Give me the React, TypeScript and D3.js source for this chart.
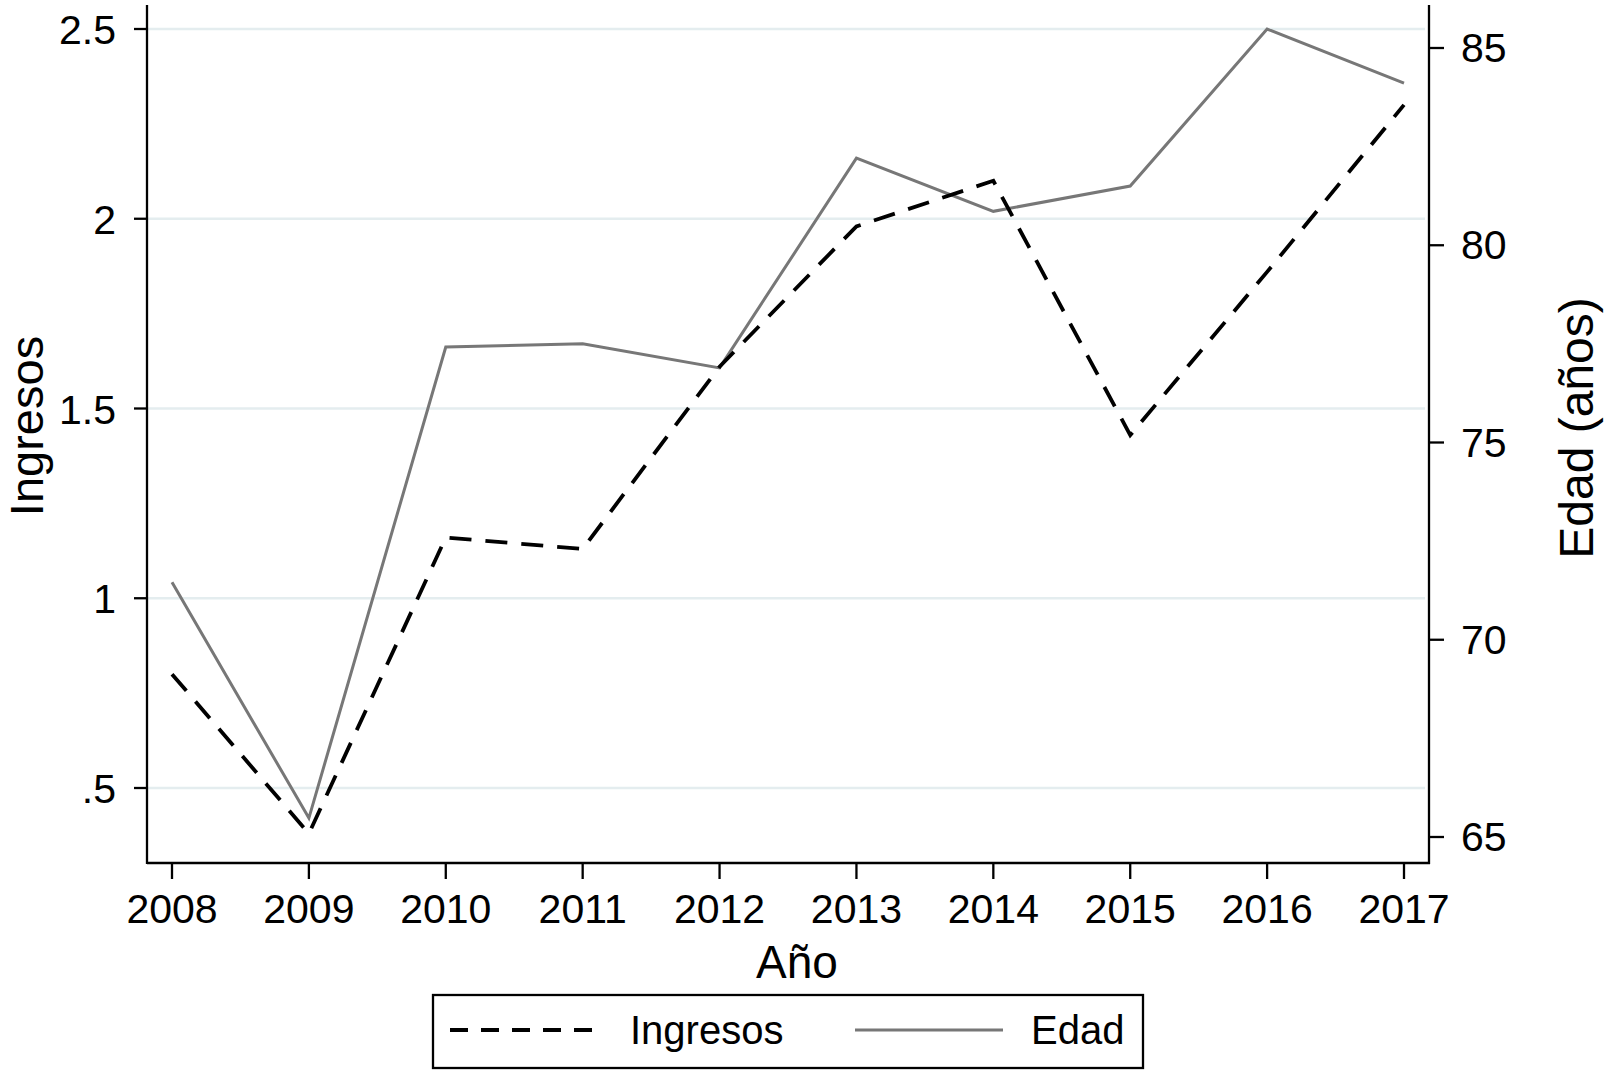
import React from "react";
import * as d3 from "d3";

const years: number[] = [2008, 2009, 2010, 2011, 2012, 2013, 2014, 2015, 2016, 2017];
const ingresos: number[] = [0.8, 0.38, 1.16, 1.13, 1.61, 1.98, 2.1, 1.43, 1.86, 2.3];
const edad: number[] = [71.46, 65.48, 77.42, 77.5, 76.89, 82.21, 80.86, 81.5, 85.48, 84.11];
const leftTicks: number[] = [0.5, 1, 1.5, 2, 2.5];
const leftTickLabels: string[] = [".5", "1", "1.5", "2", "2.5"];
const rightTicks: number[] = [65, 70, 75, 80, 85];
const rightTickLabels: string[] = ["65", "70", "75", "80", "85"];
const seriesNames: string[] = ["Ingresos", "Edad"];
const xTitle = "Año";
const yLeftTitle = "Ingresos";
const yRightTitle = "Edad (años)";

const W = 1605;
const H = 1072;
const FONT = "'Liberation Sans', Arial, Helvetica, sans-serif";

export default function App() {
  const axL = 147;
  const axR = 1429;
  const axTop = 5;
  const axBottom = 863;

  const x = d3.scaleLinear().domain([2008, 2017]).range([172, 1404]);
  const yL = d3.scaleLinear().domain([0.5, 2.5]).range([788, 29]);
  const yR = d3.scaleLinear().domain([65, 85]).range([837, 48]);

  const lineL = d3
    .line<number>()
    .x((_, i) => x(years[i]))
    .y((d) => yL(d));
  const lineR = d3
    .line<number>()
    .x((_, i) => x(years[i]))
    .y((d) => yR(d));

  const tickFont = 41;
  const dash = "22 14";

  return (
    <svg
      width={W}
      height={H}
      viewBox={`0 0 ${W} ${H}`}
      style={{ position: "absolute", left: 0, top: 0, background: "#fff" }}
      fontFamily={FONT}
    >
      <rect x={0} y={0} width={W} height={H} fill="#fff" />
      {leftTicks.map((t) => (
        <line
          key={"g" + t}
          x1={axL + 1}
          x2={axR - 4}
          y1={yL(t)}
          y2={yL(t)}
          stroke="#e4edef"
          strokeWidth={2.5}
        />
      ))}
      <path d={lineR(edad) || ""} fill="none" stroke="#777" strokeWidth={3} strokeLinejoin="miter" />
      <path
        d={lineL(ingresos) || ""}
        fill="none"
        stroke="#000"
        strokeWidth={3.8}
        strokeDasharray={dash}
        strokeLinejoin="miter"
      />
      <line x1={axL} x2={axL} y1={axTop} y2={axBottom + 1} stroke="#000" strokeWidth={2.3} />
      <line x1={axR} x2={axR} y1={axTop} y2={axBottom + 1} stroke="#000" strokeWidth={2.3} />
      <line x1={axL} x2={axR + 1} y1={axBottom} y2={axBottom} stroke="#000" strokeWidth={2.3} />
      {leftTicks.map((t, i) => (
        <g key={"lt" + t}>
          <line x1={axL - 13} x2={axL} y1={yL(t)} y2={yL(t)} stroke="#000" strokeWidth={2.3} />
          <text x={axL - 31} y={yL(t) + 15} textAnchor="end" fontSize={tickFont} fill="#000">
            {leftTickLabels[i]}
          </text>
        </g>
      ))}
      {rightTicks.map((t, i) => (
        <g key={"rt" + t}>
          <line x1={axR} x2={axR + 15} y1={yR(t)} y2={yR(t)} stroke="#000" strokeWidth={2.3} />
          <text x={axR + 32} y={yR(t) + 14} textAnchor="start" fontSize={tickFont} fill="#000">
            {rightTickLabels[i]}
          </text>
        </g>
      ))}
      {years.map((yv) => (
        <g key={"bt" + yv}>
          <line x1={x(yv)} x2={x(yv)} y1={axBottom} y2={axBottom + 16} stroke="#000" strokeWidth={2.3} />
          <text x={x(yv)} y={axBottom + 60} textAnchor="middle" fontSize={tickFont} fill="#000">
            {yv}
          </text>
        </g>
      ))}
      <text x={797} y={978} textAnchor="middle" fontSize={46} fill="#000">
        {xTitle}
      </text>
      <text transform={`translate(43, 426) rotate(-90)`} textAnchor="middle" fontSize={47} fill="#000">
        {yLeftTitle}
      </text>
      <text transform={`translate(1593, 428) rotate(-90)`} textAnchor="middle" fontSize={48} fill="#000">
        {yRightTitle}
      </text>
      <rect x={433} y={995} width={710} height={73} fill="#fff" stroke="#000" strokeWidth={2.3} />
      <line x1={450} x2={599} y1={1030} y2={1030} stroke="#000" strokeWidth={3.8} strokeDasharray="18 13" />
      <text x={630} y={1044} fontSize={40} fill="#000">
        {seriesNames[0]}
      </text>
      <line x1={855} x2={1003} y1={1030} y2={1030} stroke="#777" strokeWidth={3} />
      <text x={1031} y={1044} fontSize={40} fill="#000">
        {seriesNames[1]}
      </text>
    </svg>
  );
}
